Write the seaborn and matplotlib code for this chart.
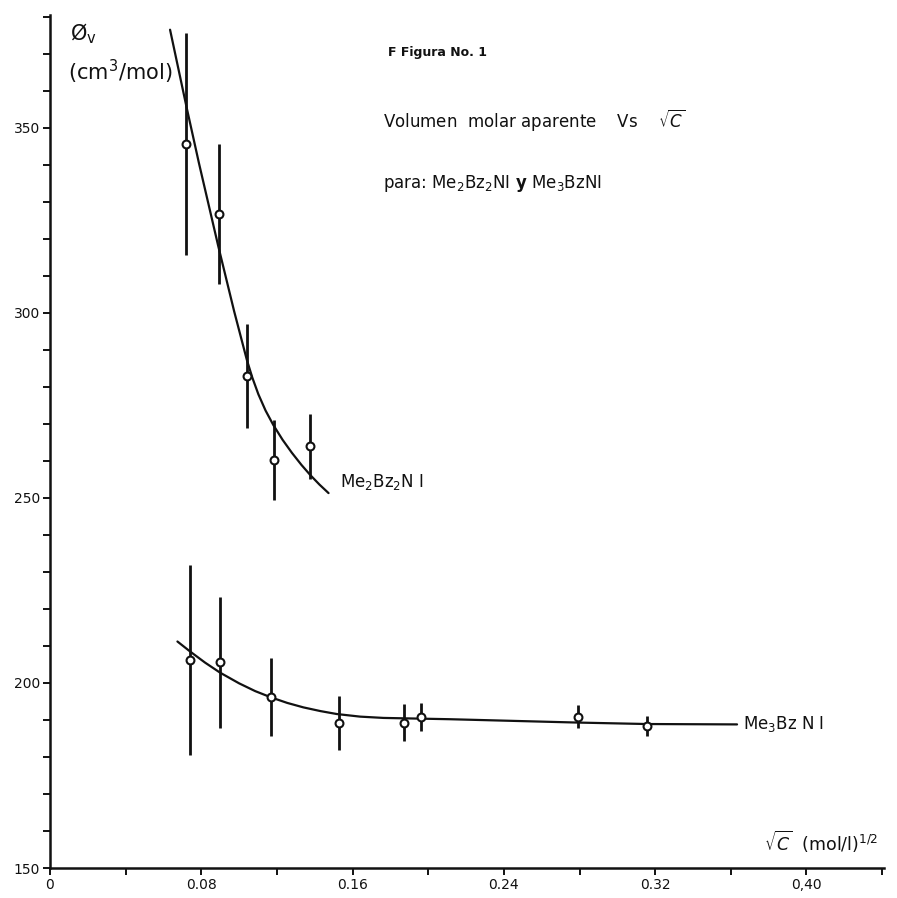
import numpy as np
import pandas as pd
import matplotlib
matplotlib.use("Agg")
import matplotlib.pyplot as plt
import seaborn as sns
from matplotlib.ticker import MultipleLocator

# ---- data ----
# Me2Bz2NI (upper series)
top_x = [0.0720, 0.0893, 0.1042, 0.1183, 0.1377]
top_y = [345.7, 326.7, 283.0, 260.3, 263.9]
top_err = [30.0, 19.0, 14.0, 10.8, 8.8]
top_curve_x = [0.0635, 0.0723, 0.0788, 0.0890, 0.0974, 0.1041, 0.1070, 0.1102, 0.1140,
               0.1181, 0.1230, 0.1279, 0.1330, 0.1376, 0.1425, 0.1473]
top_curve_y = [376.5, 355.4, 340.4, 318.0, 300.4, 287.3, 282.5, 278.0, 273.6,
               269.7, 265.7, 262.2, 258.9, 256.2, 253.6, 251.3]

# Me3BzNI (lower series)
bot_x = [0.0741, 0.0899, 0.1169, 0.1529, 0.1870, 0.1963, 0.2792, 0.3157]
bot_y = [206.2, 205.6, 196.3, 189.3, 189.3, 190.7, 190.9, 188.4]
bot_err = [25.7, 17.7, 10.5, 7.3, 5.0, 3.8, 3.1, 2.7]
bot_curve_x = [0.0674, 0.0741, 0.0820, 0.0899, 0.1000, 0.1085, 0.1169, 0.1255, 0.1340,
               0.1430, 0.1517, 0.1640, 0.1764, 0.2116, 0.2787, 0.3157, 0.3633]
bot_curve_y = [211.2, 208.5, 205.5, 202.8, 199.9, 197.8, 196.1, 194.6, 193.4,
               192.4, 191.6, 190.9, 190.55, 190.2, 189.3, 188.9, 188.8]

x_ticks = [0.0, 0.08, 0.16, 0.24, 0.32, 0.40]
x_tick_labels = ["0", "0.08", "0.16", "0.24", "0.32", "0,40"]
y_ticks = [150, 200, 250, 300, 350]
y_tick_labels = ["150", "200", "250", "300", "350"]

sns.set_theme(style="ticks")
plt.rcParams["font.family"] = ["DejaVu Sans"]
plt.rcParams["mathtext.fontset"] = "dejavusans"

fig = plt.figure(figsize=(8.97, 8.98), dpi=100)
ax = fig.add_axes([0.0557, 0.0334, 0.9298, 0.950])

ink = "#111111"

curves = pd.concat([
    pd.DataFrame({"x": top_curve_x, "y": top_curve_y, "s": "Me2Bz2NI"}),
    pd.DataFrame({"x": bot_curve_x, "y": bot_curve_y, "s": "Me3BzNI"}),
])
pts = pd.concat([
    pd.DataFrame({"x": top_x, "y": top_y, "e": top_err, "s": "Me2Bz2NI"}),
    pd.DataFrame({"x": bot_x, "y": bot_y, "e": bot_err, "s": "Me3BzNI"}),
])

sns.lineplot(data=curves, x="x", y="y", units="s", estimator=None, sort=False,
             color=ink, lw=1.6, ax=ax, legend=False)
ax.vlines(pts["x"], pts["y"] - pts["e"], pts["y"] + pts["e"], color=ink, lw=2.0, zorder=3)
sns.scatterplot(data=pts, x="x", y="y", marker="o", s=32, facecolor="white",
                edgecolor=ink, linewidth=1.5, ax=ax, zorder=4, legend=False)

ax.set_xlim(0, 0.441)
ax.set_ylim(150, 380.5)
ax.set_xticks(x_ticks)
ax.set_xticklabels(x_tick_labels)
ax.xaxis.set_minor_locator(MultipleLocator(0.04))
ax.set_yticks(y_ticks)
ax.set_yticklabels(y_tick_labels)
ax.yaxis.set_minor_locator(MultipleLocator(10))
ax.tick_params(axis="both", which="both", direction="out", color=ink, width=1.4, labelsize=10,
               labelcolor=ink)
ax.tick_params(axis="both", which="major", length=5, pad=2)
ax.tick_params(axis="both", which="minor", length=5)
ax.set_xlabel("")
ax.set_ylabel("")
for side in ["top", "right"]:
    ax.spines[side].set_visible(False)
for side in ["left", "bottom"]:
    ax.spines[side].set_color(ink)
    ax.spines[side].set_linewidth(1.8)

# series labels
ax.text(0.1534, 254.3, r"Me$_2$Bz$_2$N I", fontsize=12, color=ink, va="center", ha="left")
ax.text(0.3667, 188.8, r"Me$_3$Bz N I", fontsize=12, color=ink, va="center", ha="left")

# axis labels
fig.text(0.078, 0.963, r"Ø$_\mathrm{v}$", fontsize=15, color=ink, va="center", ha="left")
fig.text(0.076, 0.920, r"(cm$^3$/mol)", fontsize=15, color=ink, va="center", ha="left")
fig.text(0.852, 0.062, r"$\sqrt{C}$  (mol/l)$^{1/2}$", fontsize=12.5, color=ink, va="center", ha="left")

# title block
fig.text(0.4326, 0.941, "F Figura No. 1", fontsize=9, fontweight="bold", color=ink, va="center")
fig.text(0.427, 0.866, r"Volumen  molar aparente    Vs    $\sqrt{C}$", fontsize=12, color=ink, va="center")
fig.text(0.427, 0.796, r"para: Me$_2$Bz$_2$NI $\mathbf{y}$ Me$_3$BzNI", fontsize=12, color=ink, va="center")

fig.savefig("out.png", dpi=100, facecolor="white")
